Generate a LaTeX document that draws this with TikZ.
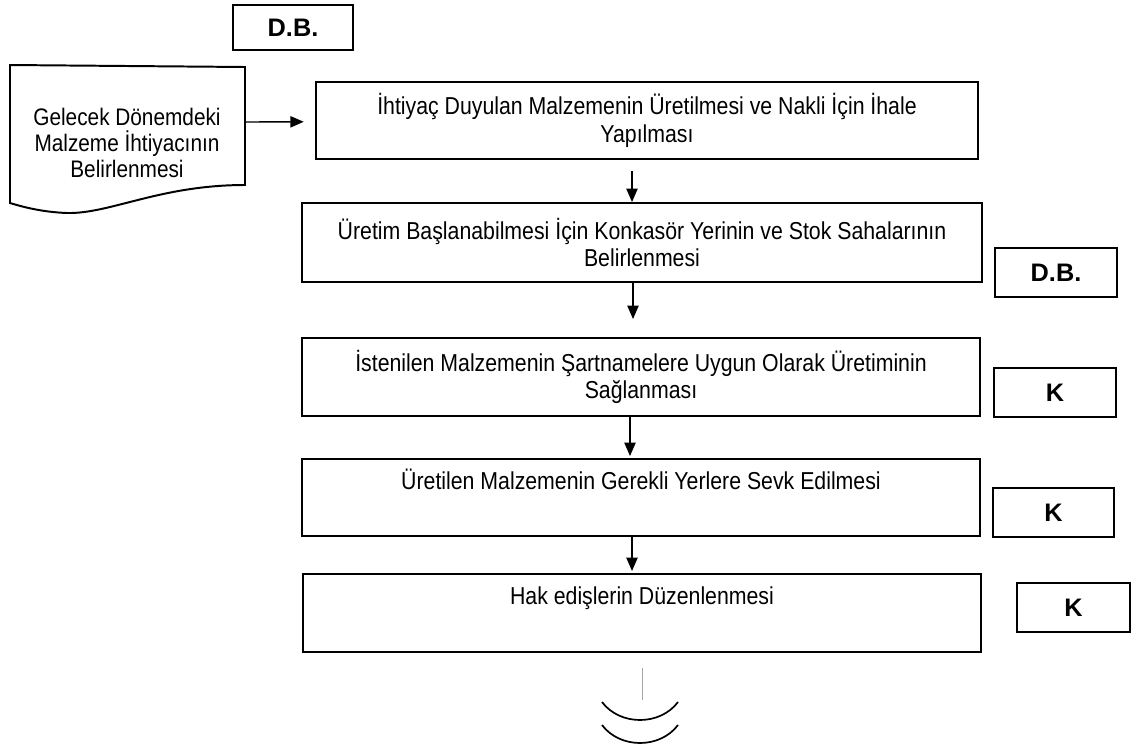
\documentclass[tikz,border=0pt]{standalone}
\usepackage{fontspec}
\setmainfont{Liberation Sans}
\newfontfamily\narrowsf[FakeStretch=0.87]{Liberation Sans}
\usetikzlibrary{arrows.meta, positioning}

\begin{document}
\begin{tikzpicture}[x=0.025cm, y=-0.025cm,
		box/.style={draw, line width=1.4pt, align=center, inner sep=0pt,
			font=\narrowsf\fontsize{17.4}{19.5}\selectfont},
		tag/.style={draw, line width=1.4pt, minimum width=3.05cm, minimum height=1.225cm,
			inner sep=0pt, font=\fontsize{18}{20}\selectfont\bfseries},
		flow/.style={-{Triangle[length=9.5pt,width=8pt]}, line width=1pt}]
			\useasboundingbox (0,0) rectangle (1132,752);
			% Document (input)
			\draw[line width=1.4pt] (10,65) -- (245,67) -- (245,185)
				.. controls (160,185) and (110,214) .. (67,213)
				.. controls (40,212) and (20,206) .. (10,203) -- cycle;
			\node[align=center, font=\narrowsf\fontsize{17}{18.3}\selectfont] (need) at (127,143)
				{Gelecek Dönemdeki\\Malzeme İhtiyacının\\Belirlenmesi};
			\coordinate (needR) at (245,122);
			% Process steps
			\node[box, minimum width=16.55cm, minimum height=1.925cm] (tender) at (647,120.5)
				{İhtiyaç Duyulan Malzemenin Üretilmesi ve Nakli İçin İhale\\Yapılması};
			\node[box, minimum width=17cm, minimum height=1.975cm] (site) at (642,242.5)
				{Üretim Başlanabilmesi İçin Konkasör Yerinin ve Stok Sahalarının\\Belirlenmesi};
			\node[box, minimum width=16.95cm, minimum height=1.95cm] (produce) at (641,377)
				{İstenilen Malzemenin Şartnamelere Uygun Olarak Üretiminin\\Sağlanması};
			\node[box, minimum width=16.95cm, minimum height=1.925cm] (ship) at (641,497.5)
				{Üretilen Malzemenin Gerekli Yerlere Sevk Edilmesi\\\strut};
			\node[box, minimum width=16.95cm, minimum height=1.95cm] (payment) at (642,613)
				{Hak edişlerin Düzenlenmesi\\\strut};
			% Responsible units
			\node[tag, minimum width=3cm, minimum height=1.125cm] (dbTop) at (293,27.5) {D.B.};
			\node[tag] (dbSite) at (1056,272.5) {D.B.};
			\node[tag] (kProduce) at (1055,392.5) {K};
			\node[tag, minimum width=3.025cm] (kShip) at (1053.5,512.5) {K};
			\node[tag, minimum width=2.825cm] (kPayment) at (1073.5,607.5) {K};
			% Connectors
			\coordinate (ax) at (632,0);
			\draw[flow, shorten >=0.28cm] (needR) -- (tender);
			\draw[flow, shorten <=0.275cm] (tender.south -| ax) -- (site.north -| ax);
			\draw[flow, shorten >=0.45cm] ([xshift=0.025cm]site.south -| ax) -- ([xshift=0.025cm]produce.north -| ax);
			\draw[flow, shorten >=0.05cm] ([xshift=-0.05cm]produce.south -| ax) -- ([xshift=-0.05cm]ship.north -| ax);
			\draw[flow, shorten >=0.05cm] (ship.south -| ax) -- (payment.north -| ax);
			% Continuation mark
			\draw[gray!70, line width=0.6pt] (642,668) -- (642,700);
			\foreach \y in {0,23}
			\draw[line width=1.2pt] (602,702+\y) .. controls (620,726+\y) and (660,726+\y) .. (678,702+\y);
		\end{tikzpicture}
\end{document}
